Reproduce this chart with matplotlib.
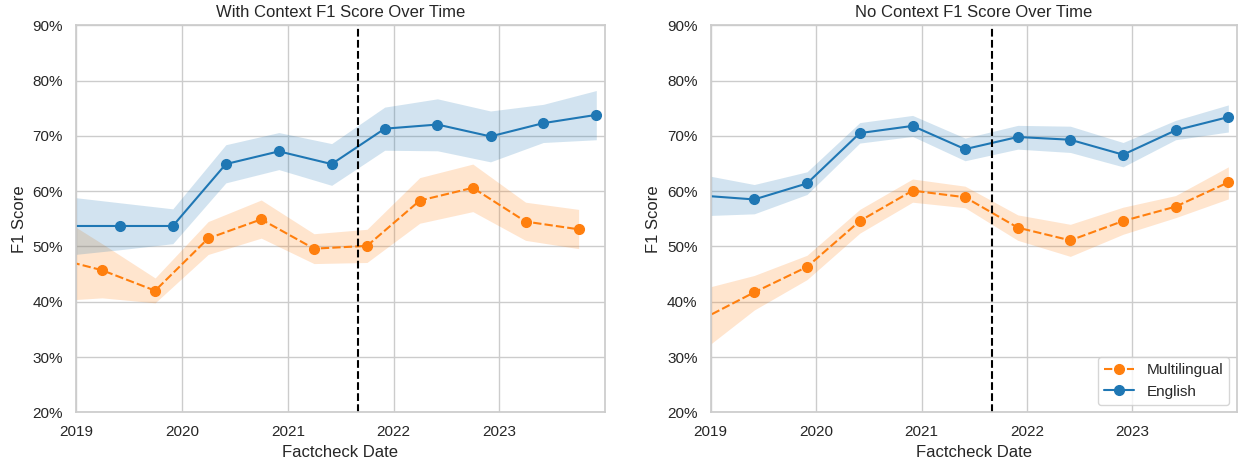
import matplotlib
matplotlib.use("Agg")
import matplotlib.pyplot as plt
import matplotlib.dates as mdates
from matplotlib.ticker import PercentFormatter
import pandas as pd
import seaborn as sns

# half-year bins (first point lies before the x-limit and gets clipped)
eng_dates = pd.date_range("2018-12-01", "2023-12-01", freq="6MS")
mul_dates_ctx = pd.date_range("2018-10-01", "2023-10-01", freq="6MS")
mul_dates_noctx = eng_dates

# With context (F1 in %)
eng_ctx = [53.7, 53.7, 53.7, 64.9, 67.2, 64.9, 71.3, 72.05, 69.9, 72.3, 73.8]
eng_ctx_lo = [48.4, 49.4, 50.5, 61.5, 63.9, 61.05, 67.4, 67.3, 65.3, 68.8, 69.3]
eng_ctx_hi = [59.0, 57.9, 56.8, 68.4, 70.6, 68.6, 75.2, 76.7, 74.5, 75.7, 78.2]
mul_ctx = [48.15, 45.7, 42.0, 51.45, 54.9, 49.6, 50.1, 58.3, 60.6, 54.5, 53.1]
mul_ctx_lo = [40.1, 40.7, 39.8, 48.55, 51.5, 46.9, 47.1, 54.2, 56.3, 51.1, 49.6]
mul_ctx_hi = [56.5, 50.5, 44.3, 54.5, 58.4, 52.3, 53.1, 62.45, 64.9, 58.0, 56.7]

# No context (F1 in %)
eng_noctx = [59.2, 58.5, 61.4, 70.5, 71.8, 67.6, 69.8, 69.3, 66.6, 71.0, 73.4]
eng_noctx_lo = [55.55, 55.9, 59.4, 68.7, 69.9, 65.5, 67.6, 67.0, 64.4, 69.3, 70.7]
eng_noctx_hi = [63.0, 61.2, 63.5, 72.4, 73.7, 69.6, 71.9, 71.75, 68.8, 72.8, 75.6]
mul_noctx = [36.8, 41.7, 46.3, 54.6, 60.1, 58.9, 53.4, 51.1, 54.6, 57.2, 61.6]
mul_noctx_lo = [31.1, 38.5, 44.0, 52.4, 58.0, 57.0, 51.1, 48.2, 52.2, 55.2, 58.6]
mul_noctx_hi = [42.3, 44.75, 48.4, 56.7, 62.2, 60.9, 55.7, 54.0, 57.1, 59.2, 64.4]

cutoff = pd.Timestamp("2021-09-01")
xmin, xmax = pd.Timestamp("2019-01-01"), pd.Timestamp("2023-12-31")

sns.set_theme(style="whitegrid")
plt.rcParams["font.family"] = ["Liberation Sans", "DejaVu Sans"]

BLUE = "#1f77b4"
ORANGE = "#ff7f0e"

fig = plt.figure(figsize=(12.38, 4.61), dpi=100)
W, H = 1238, 461
ax1 = fig.add_axes([76 / W, 1 - 412.3 / H, (605 - 76) / W, (412.3 - 25.3) / H])
ax2 = fig.add_axes([710.7 / W, 1 - 412.3 / H, (1237 - 710.7) / W, (412.3 - 25.3) / H])


def draw(ax, title, mdates_, mul, mlo, mhi, edates, eng, elo, ehi):
    ax.fill_between(mdates_, mlo, mhi, color=ORANGE, alpha=0.2, linewidth=0)
    ax.plot(mdates_, mul, color=ORANGE, linestyle=(0, (4, 1.5)), linewidth=1.5,
            marker="o", markersize=7, label="Multilingual")
    ax.fill_between(edates, elo, ehi, color=BLUE, alpha=0.2, linewidth=0)
    ax.plot(edates, eng, color=BLUE, linewidth=1.5, marker="o", markersize=7,
            label="English")
    ax.axvline(cutoff, color="black", linestyle="--", linewidth=1.5)
    ax.set_xlim(xmin, xmax)
    ax.set_ylim(20, 90)
    ax.yaxis.set_major_formatter(PercentFormatter(100, decimals=0))
    ax.xaxis.set_major_locator(mdates.YearLocator())
    ax.xaxis.set_major_formatter(mdates.DateFormatter("%Y"))
    ax.tick_params(labelsize=11)
    ax.set_title(title, fontsize=12)
    ax.set_xlabel("Factcheck Date", fontsize=12)
    ax.set_ylabel("F1 Score", fontsize=12)


draw(ax1, "With Context F1 Score Over Time", mul_dates_ctx, mul_ctx, mul_ctx_lo, mul_ctx_hi,
     eng_dates, eng_ctx, eng_ctx_lo, eng_ctx_hi)
draw(ax2, "No Context F1 Score Over Time", mul_dates_noctx, mul_noctx, mul_noctx_lo, mul_noctx_hi,
     eng_dates, eng_noctx, eng_noctx_lo, eng_noctx_hi)
ax2.legend(loc="lower right", fontsize=11)

fig.savefig("out.png", dpi=100)
